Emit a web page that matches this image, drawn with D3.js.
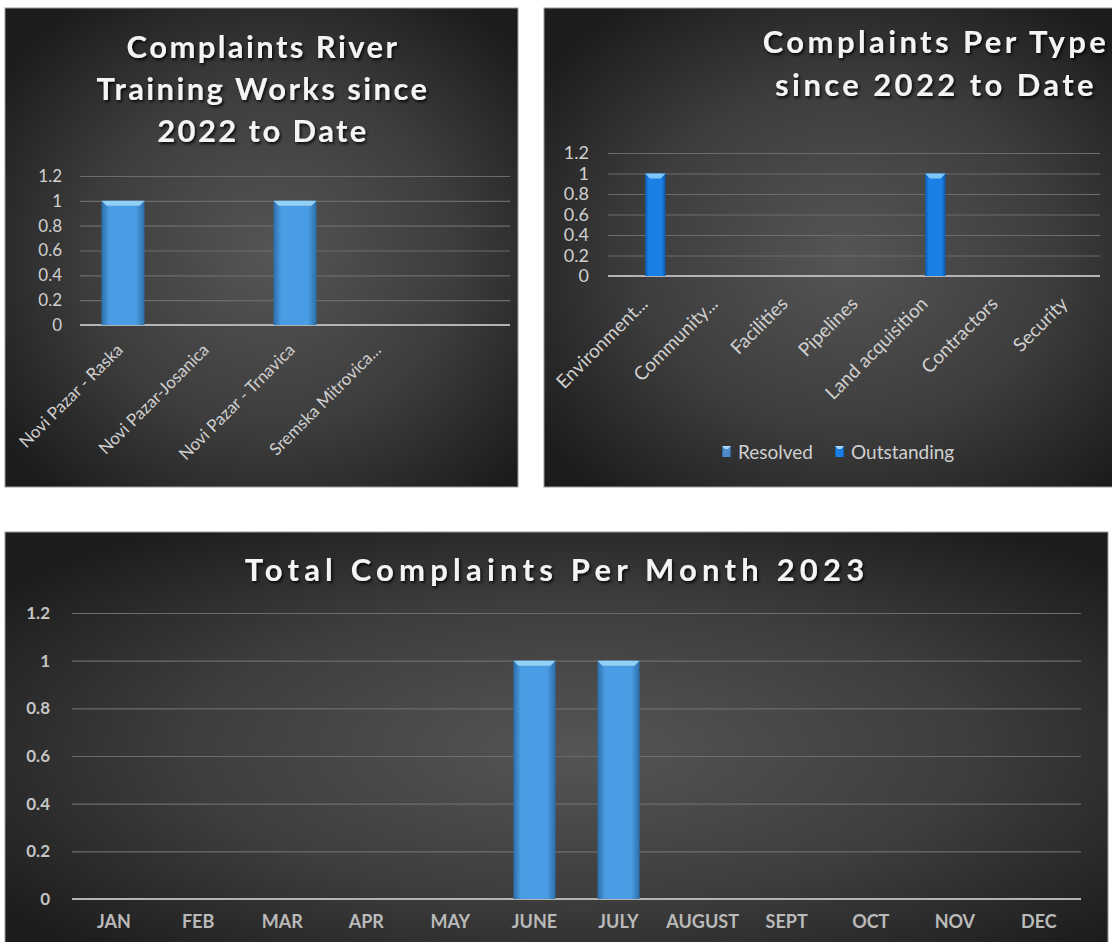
<!DOCTYPE html>
<html>
<head>
<meta charset="utf-8">
<script src="https://cdn.jsdelivr.net/npm/d3@7"></script>
<style>
  body { margin: 0; background: #fff; }
  svg { display: block; }
</style>
</head>
<body>
<svg id="chart" width="1112" height="942"></svg>
<script>
// values
var riverCategories = ["Novi Pazar - Raska", "Novi Pazar-Josanica", "Novi Pazar - Trnavica", "Sremska Mitrovica...", ""];
var riverValues = [1, 0, 1, 0, 0];

var typeCategories = ["Environment...", "Community...", "Facilities", "Pipelines", "Land acquisition", "Contractors", "Security"];
var typeSeries = ["Resolved", "Outstanding"];
var typeResolved = [0, 0, 0, 0, 0, 0, 0];
var typeOutstanding = [1, 0, 0, 0, 1, 0, 0];

var months = ["JAN", "FEB", "MAR", "APR", "MAY", "JUNE", "JULY", "AUGUST", "SEPT", "OCT", "NOV", "DEC"];
var monthValues = [0, 0, 0, 0, 0, 1, 1, 0, 0, 0, 0, 0];

var yTicks = [0, 0.2, 0.4, 0.6, 0.8, 1, 1.2];

var svg = d3.select("#chart");
var defs = svg.append("defs");

// dark background
var bg = defs.append("radialGradient").attr("id", "bg")
	.attr("cx", "52%").attr("cy", "52%").attr("r", "65%");
bg.append("stop").attr("offset", "0%").attr("stop-color", "#555555");
bg.append("stop").attr("offset", "55%").attr("stop-color", "#3d3d3d");
bg.append("stop").attr("offset", "100%").attr("stop-color", "#1c1c1c");

function barGradient(id, edge, mid) {
	var g = defs.append("linearGradient").attr("id", id)
		.attr("x1", "0%").attr("x2", "100%").attr("y1", "0%").attr("y2", "0%");
	g.append("stop").attr("offset", "0%").attr("stop-color", edge);
	g.append("stop").attr("offset", "18%").attr("stop-color", mid);
	g.append("stop").attr("offset", "80%").attr("stop-color", mid);
	g.append("stop").attr("offset", "100%").attr("stop-color", edge);
}
barGradient("barLight", "#2b6ea8", "#4a9de4");
barGradient("barBright", "#0d58a8", "#1a80e6");
barGradient("barSteel", "#2d5f93", "#4f8bc9");

var shadow = defs.append("filter").attr("id", "shadow")
	.attr("x", "-10%").attr("y", "-20%").attr("width", "120%").attr("height", "150%");
shadow.append("feDropShadow").attr("dx", 1.5).attr("dy", 2).attr("stdDeviation", 1.5)
	.attr("flood-color", "#000").attr("flood-opacity", 0.85);

var fontFamily = "Lato, 'Open Sans', sans-serif";

function panel(box) {
	var g = svg.append("g");
	g.append("rect")
		.attr("x", box.x).attr("y", box.y)
		.attr("width", box.w).attr("height", box.h)
		.attr("fill", "url(#bg)")
		.attr("stroke", "#9a9a9a").attr("stroke-width", 1);
	return g;
}

function title(g, lines, cx, y0, lineH, size, spacing) {
	g.append("text")
		.attr("text-anchor", "middle")
		.attr("font-family", fontFamily)
		.attr("font-weight", "bold")
		.attr("font-size", size)
		.attr("letter-spacing", spacing)
		.attr("fill", "#f4f4f4")
		.attr("filter", "url(#shadow)")
		.selectAll("tspan").data(lines).enter()
		.append("tspan")
		.attr("x", cx)
		.attr("y", function(d, i) { return y0 + i * lineH; })
		.text(function(d) { return d; });
}

function yAxis(g, y, x0, x1, labelX, size, color, weight) {
	g.append("g")
		.attr("transform", "translate(" + x0 + ",0)")
		.call(d3.axisLeft(y).tickValues(yTicks).tickSize(-(x1 - x0)).tickFormat(""))
		.call(function(a) {
			a.select(".domain").remove();
			a.selectAll("line").attr("stroke", "#6c6c6c").attr("stroke-width", 1.2);
		});
	g.append("g")
		.attr("transform", "translate(" + labelX + ",0)")
		.call(d3.axisLeft(y).tickValues(yTicks).tickSize(0).tickPadding(0).tickFormat(d3.format("~g")))
		.call(function(a) {
			a.select(".domain").remove();
			a.selectAll("text").attr("font-family", fontFamily)
				.attr("font-size", size).attr("font-weight", weight || "normal")
				.attr("fill", color);
		});
	// baseline
	g.append("line")
		.attr("x1", x0).attr("x2", x1)
		.attr("y1", y(0)).attr("y2", y(0))
		.attr("stroke", "#b4b4b4").attr("stroke-width", 2);
}

function bars(g, data, x, y, fill, bevelColor) {
	var bar = g.append("g").selectAll("g").data(data).enter()
		.filter(function(d) { return d.value > 0; })
		.append("g");
	bar.append("rect")
		.attr("x", function(d) { return d.x; })
		.attr("y", function(d) { return y(d.value); })
		.attr("width", function(d) { return d.w; })
		.attr("height", function(d) { return y(0) - y(d.value); })
		.attr("fill", fill);
	bar.append("path")
		.attr("d", function(d) {
			var t = y(d.value), b = Math.min(5, d.w / 4);
			return "M" + d.x + "," + t + "H" + (d.x + d.w) +
				"L" + (d.x + d.w - b) + "," + (t + b) + "H" + (d.x + b) + "Z";
		})
		.attr("fill", bevelColor);
}

// ---------- panel 1 ----------
(function() {
	var g = panel({x: 5, y: 8, w: 513, h: 479});
	title(g, ["Complaints River", "Training Works since", "2022 to Date"], 263, 58, 42, 31, 2.4);

	var y = d3.scaleLinear().domain([0, 1.2]).range([325, 176]);
	var x = d3.scaleBand().domain(riverCategories.map(function(d, i) { return i; }))
		.range([80, 510]).paddingInner(0.5).paddingOuter(0.25);
	yAxis(g, y, 80, 510, 62, 17, "#d0d0d0");

	var data = riverValues.map(function(v, i) {
		return {value: v, x: x(i), w: x.bandwidth()};
	});
	bars(g, data, x, y, "url(#barLight)", "#93d0f6");

	g.append("g").selectAll("text").data(riverCategories).enter()
		.append("text")
		.attr("transform", function(d, i) {
			return "translate(" + (x(i) + x.bandwidth() / 2 + 1) + "," + (y(0) + 26) + ") rotate(-45)";
		})
		.attr("text-anchor", "end")
		.attr("font-family", fontFamily)
		.attr("font-size", 17)
		.attr("fill", "#d0d0d0")
		.text(function(d) { return d; });
})();

// ---------- panel 2 ----------
(function() {
	var g = panel({x: 544, y: 8, w: 580, h: 479});
	title(g, ["Complaints Per Type", "since 2022 to Date"], 936, 53, 43, 31, 3.4);

	var y = d3.scaleLinear().domain([0, 1.2]).range([276, 153]);
	var x = d3.scaleBand().domain(typeCategories).range([610, 1100]);
	var xs = d3.scaleBand().domain(typeSeries).range([0, x.bandwidth()]).paddingInner(0).paddingOuter(0.7);
	yAxis(g, y, 608, 1100, 589, 18, "#d0d0d0");

	var data = [];
	typeCategories.forEach(function(c, i) {
		data.push({value: typeResolved[i], x: x(c) + xs("Resolved"), w: xs.bandwidth()});
		data.push({value: typeOutstanding[i], x: x(c) + xs("Outstanding"), w: xs.bandwidth()});
	});
	bars(g, data.filter(function(d, i) { return i % 2 == 0; }), x, y, "url(#barSteel)", "#9cc8ee");
	bars(g, data.filter(function(d, i) { return i % 2 == 1; }), x, y, "url(#barBright)", "#7cc6fa");

	g.append("g").selectAll("text").data(typeCategories).enter()
		.append("text")
		.attr("transform", function(d) {
			return "translate(" + (x(d) + x.bandwidth() / 2 + 4) + "," + (y(0) + 29) + ") rotate(-45)";
		})
		.attr("text-anchor", "end")
		.attr("font-family", fontFamily)
		.attr("font-size", 19)
		.attr("fill", "#d0d0d0")
		.text(function(d) { return d; });

	// legend
	var swatch = {Resolved: "url(#barSteel)", Outstanding: "url(#barBright)"};
	var lx = 722;
	typeSeries.forEach(function(s) {
		g.append("rect").attr("x", lx).attr("y", 446).attr("width", 9).attr("height", 11)
			.attr("fill", swatch[s]);
		g.append("path")
			.attr("d", "M" + lx + ",446h9l-3,3h-3z")
			.attr("fill", "#a9d8fa");
		var t = g.append("text").attr("x", lx + 16).attr("y", 459)
			.attr("font-family", fontFamily).attr("font-size", 19)
			.attr("fill", "#d0d0d0").text(s);
		lx += 16 + t.node().getComputedTextLength() + 22;
	});
})();

// ---------- panel 3 ----------
(function() {
	var g = panel({x: 5, y: 532, w: 1103, h: 420});
	title(g, ["Total Complaints Per Month 2023"], 557, 581, 0, 31, 5.2);

	var y = d3.scaleLinear().domain([0, 1.2]).range([899, 613]);
	var x = d3.scaleBand().domain(months).range([72, 1081]).paddingInner(0.5).paddingOuter(0.25);
	yAxis(g, y, 72, 1081, 50, 17, "#c4c4c4", "bold");

	var data = monthValues.map(function(v, i) {
		return {value: v, x: x(months[i]), w: x.bandwidth()};
	});
	bars(g, data, x, y, "url(#barLight)", "#93d0f6");

	g.append("g").selectAll("text").data(months).enter()
		.append("text")
		.attr("x", function(d) { return x(d) + x.bandwidth() / 2; })
		.attr("y", 928)
		.attr("text-anchor", "middle")
		.attr("font-family", fontFamily)
		.attr("font-weight", "bold")
		.attr("font-size", 18)
		.attr("fill", "#bababa")
		.text(function(d) { return d; });
})();
</script>
</body>
</html>
